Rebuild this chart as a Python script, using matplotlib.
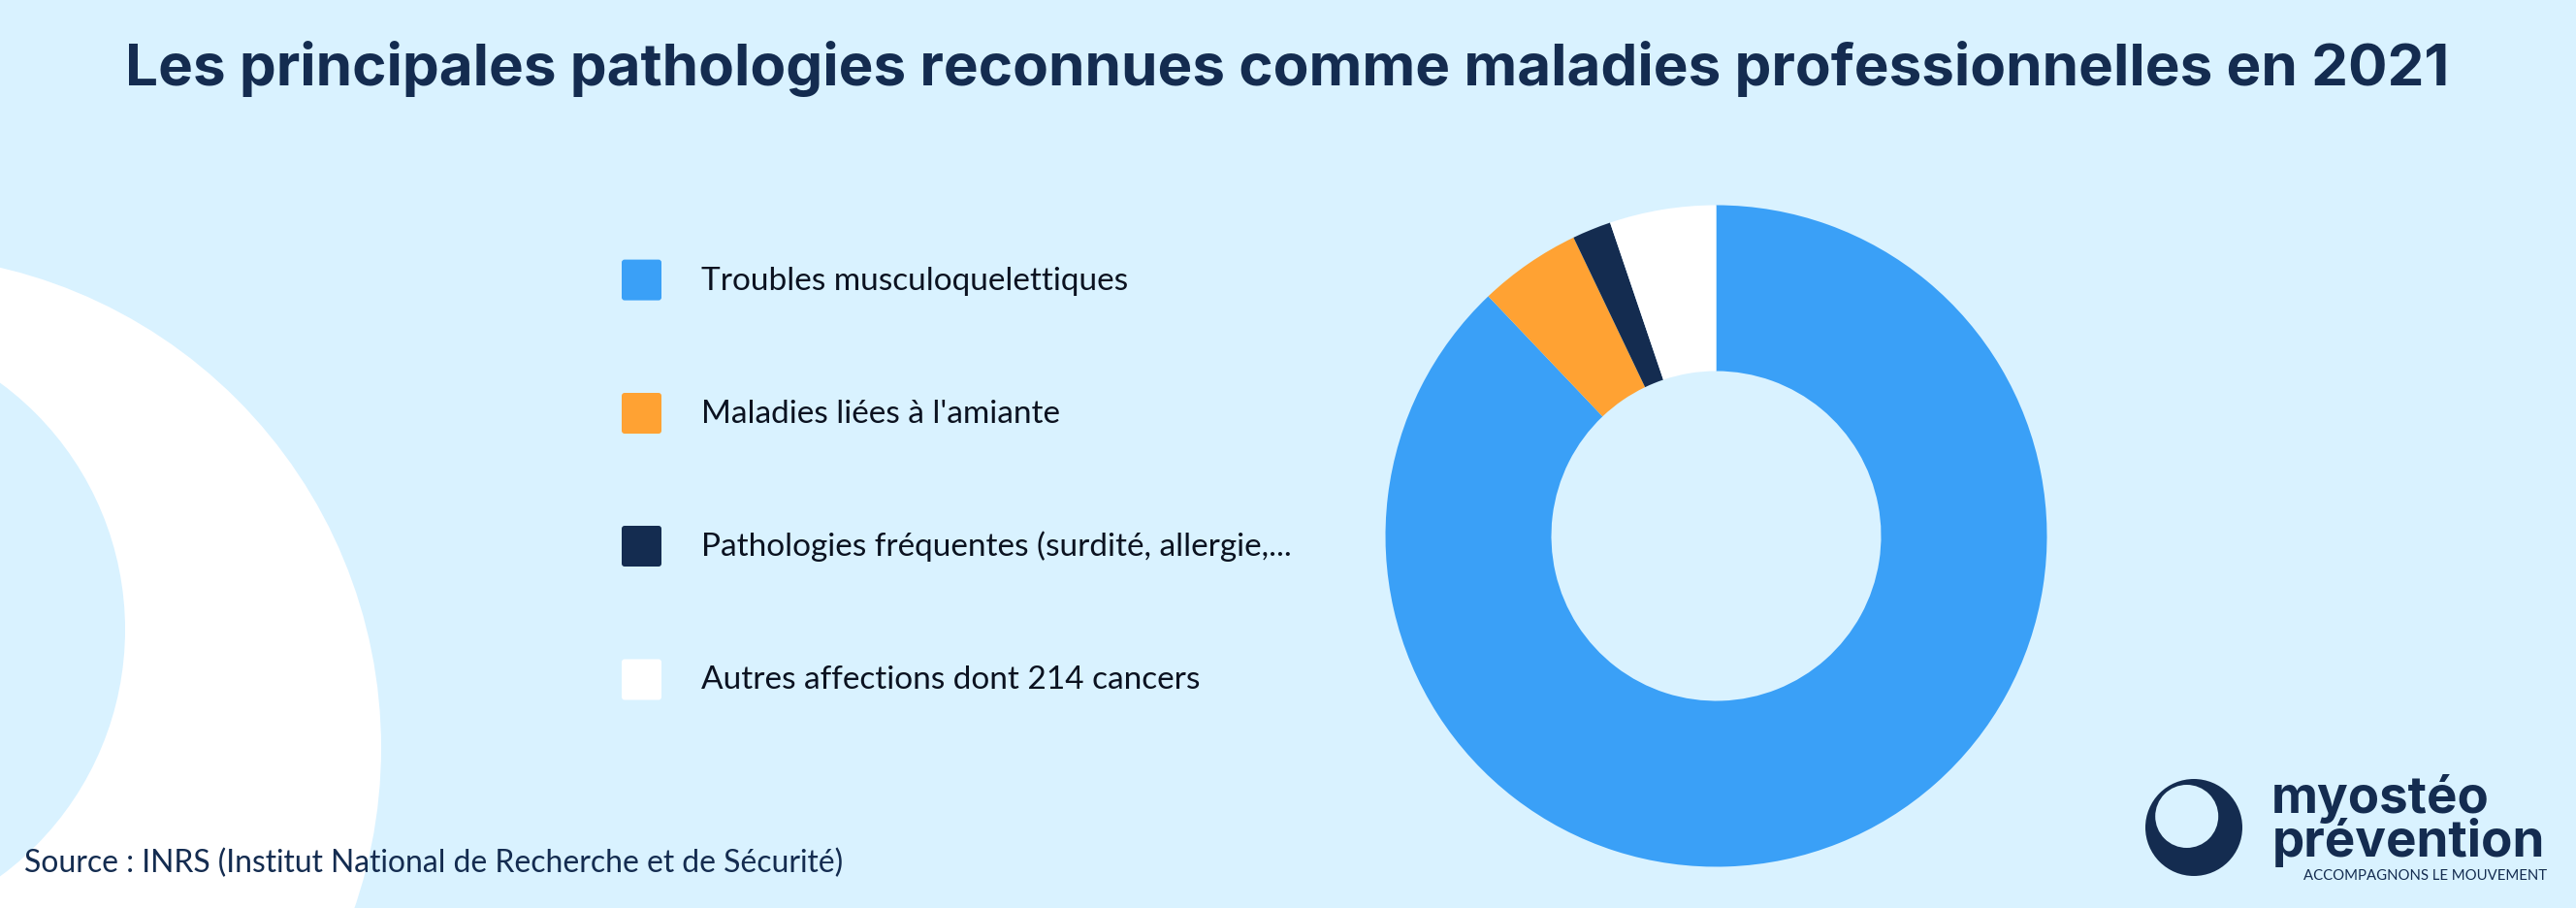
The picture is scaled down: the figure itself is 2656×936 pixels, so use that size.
import matplotlib
matplotlib.use("Agg")
import matplotlib.pyplot as plt
from matplotlib.patches import Circle, FancyBboxPatch

W, H = 2656, 937

BG = "#d9f2ff"
NAVY = "#142c50"

title = "Les principales pathologies reconnues comme maladies professionnelles en 2021"
source = "Source : INRS (Institut National de Recherche et de Sécurité)"

labels = [
    "Troubles musculoquelettiques",
    "Maladies liées à l'amiante",
    "Pathologies fréquentes (surdité, allergie,...",
    "Autres affections dont 214 cancers",
]
values = [87.9, 5.0, 1.9, 5.2]
colors = ["#3aa0f7", "#ffa233", NAVY, "#ffffff"]


def fit_width(txt, width):
    # scale the font so that the text spans the wanted number of pixels
    r = fig.canvas.get_renderer()
    txt.set_fontsize(txt.get_fontsize() * width / txt.get_window_extent(r).width)


fig = plt.figure(figsize=(W / 100, H / 100), dpi=100, facecolor=BG)
ax = fig.add_axes([0, 0, 1, 1])

# background rings, partly off the left edge
ax.add_patch(Circle((-115.5, H - 772), 508.5, fc="white", ec="none", zorder=1))
ax.add_patch(Circle((-186.5, H - 650), 315.5, fc=BG, ec="none", zorder=2))

ax.pie(values, colors=colors, startangle=90, counterclock=False,
       center=(1769.5, H - 553.5), radius=341,
       wedgeprops=dict(width=171, linewidth=0), frame=True)
for w in ax.patches:
    w.set_zorder(3)

ax.set_xlim(0, W)
ax.set_ylim(0, H)
ax.set_aspect("equal")
ax.set_facecolor(BG)
ax.axis("off")

t = ax.text(129, H - 88, title, fontsize=40, fontweight="bold", color=NAVY,
            family="Inter", va="baseline", zorder=5)
fit_width(t, 2399)

square_y = [289.6, 427, 564, 701.5]
legend_texts = []
for lab, col, y in zip(labels, colors, square_y):
    ax.add_patch(FancyBboxPatch((643, H - y - 19), 37, 38, boxstyle="round,pad=2,rounding_size=3",
                                fc=col, ec="none", zorder=5))
    legend_texts.append(ax.text(723, H - y - 9, lab, fontsize=22, color="#0b1220",
                                family="Lato", va="baseline", zorder=5))
fit_width(legend_texts[2], 608)
for t in legend_texts:
    t.set_fontsize(legend_texts[2].get_fontsize())

t = ax.text(25, H - 899, source, fontsize=22, color=NAVY, family="Lato", va="baseline", zorder=5)
fit_width(t, 843)

# logo
ax.add_patch(Circle((2262, H - 854), 50, fc=NAVY, ec="none", zorder=5))
ax.add_patch(Circle((2254.7, H - 842.5), 32.5, fc=BG, ec="none", zorder=6))
t = ax.text(2342, H - 838, "myostéo", fontsize=40, fontweight="bold", color=NAVY, family="Inter", zorder=5)
fit_width(t, 225)
t = ax.text(2343, H - 883, "prévention", fontsize=40, fontweight="bold", color=NAVY, family="Inter", zorder=5)
fit_width(t, 282)
t = ax.text(2375, H - 907, "ACCOMPAGNONS LE MOUVEMENT", fontsize=10, color=NAVY, family="Lato", zorder=5)
fit_width(t, 249)

fig.savefig("out.png", dpi=100, facecolor=BG)
